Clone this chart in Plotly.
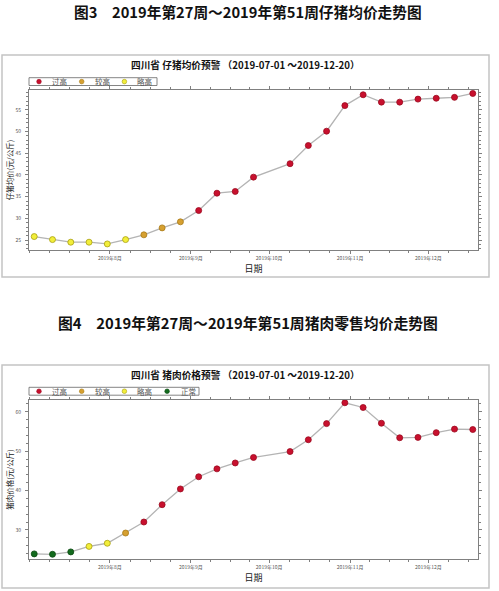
import plotly.graph_objects as go
import pandas as pd

# ---- data ----
dates = ["2019-07-03", "2019-07-10", "2019-07-17", "2019-07-24", "2019-07-31",
         "2019-08-07", "2019-08-14", "2019-08-21", "2019-08-28", "2019-09-04",
         "2019-09-11", "2019-09-18", "2019-09-25", "2019-10-09", "2019-10-16",
         "2019-10-23", "2019-10-30", "2019-11-06", "2019-11-13", "2019-11-20",
         "2019-11-27", "2019-12-04", "2019-12-11", "2019-12-18"]

piglet_price = [25.8, 25.1, 24.5, 24.5, 24.1, 25.1, 26.2, 27.8, 29.2, 31.8,
                35.8, 36.2, 39.5, 42.6, 46.8, 50.1, 56.0, 58.5, 56.8, 56.8,
                57.5, 57.7, 57.9, 58.8]
piglet_level = ["略高", "略高", "略高", "略高", "略高", "略高", "较高", "较高", "较高", "过高",
                "过高", "过高", "过高", "过高", "过高", "过高", "过高", "过高", "过高", "过高",
                "过高", "过高", "过高", "过高"]

pork_price = [23.9, 23.8, 24.4, 25.8, 26.6, 29.2, 32.0, 36.4, 40.4, 43.5,
              45.5, 47.0, 48.4, 49.9, 52.9, 57.0, 62.3, 61.1, 57.1, 53.4,
              53.5, 54.7, 55.6, 55.5]
pork_level = ["正常", "正常", "正常", "略高", "略高", "较高", "过高", "过高", "过高", "过高",
              "过高", "过高", "过高", "过高", "过高", "过高", "过高", "过高", "过高", "过高",
              "过高", "过高", "过高", "过高"]

month_ticks = ["2019-08-01", "2019-09-01", "2019-10-01", "2019-11-01", "2019-12-01"]
month_labels = ["2019年8月", "2019年9月", "2019年10月", "2019年11月", "2019年12月"]

levels = ["过高", "较高", "略高", "正常"]
level_fill = {"过高": "#C8102E", "较高": "#D6A030", "略高": "#F2EE3A", "正常": "#136B1E"}
level_edge = {"过高": "#9A0A1E", "较高": "#A87A18", "略高": "#A8A010", "正常": "#0B4A12"}

W, H = 499, 591
FONT = "Noto Sans CJK SC"


def px(x):
    return x / W


def py(y):
    return 1 - y / H


# minor ticks: quarter months
minor_vals = []
for m in range(7, 13):
    start = pd.Timestamp(2019, m, 1)
    end = pd.Timestamp(2019, m + 1, 1) if m < 12 else pd.Timestamp(2020, 1, 1)
    span = end - start
    for k in range(4):
        minor_vals.append((start + span * k / 4).strftime("%Y-%m-%d %H:%M:%S"))

fig = go.Figure()


def add_chart(prices, lvls, xa, ya):
    fig.add_trace(go.Scatter(x=dates, y=prices, mode="lines",
                             line=dict(color="#b4b4b4", width=1.3),
                             showlegend=False, hoverinfo="skip",
                             xaxis=xa, yaxis=ya))
    for lv in levels:
        idx = [i for i, v in enumerate(lvls) if v == lv]
        if not idx:
            continue
        fig.add_trace(go.Scatter(
            x=[dates[i] for i in idx], y=[prices[i] for i in idx],
            mode="markers", name=lv, showlegend=False,
            marker=dict(size=6, color=level_fill[lv],
                        line=dict(color=level_edge[lv], width=0.8)),
            xaxis=xa, yaxis=ya))


add_chart(piglet_price, piglet_level, "x", "y")
add_chart(pork_price, pork_level, "x2", "y2")

axis_common = dict(showgrid=False, zeroline=False, showline=True, linecolor="#808080",
                   linewidth=1, mirror="ticks", ticks="outside", ticklen=3,
                   tickcolor="#808080", tickfont=dict(size=5, color="#555"))

xcommon = dict(axis_common, type="date", range=["2019-07-01", "2019-12-20"],
               tickmode="array", tickvals=month_ticks, ticktext=month_labels,
               ticklabelstandoff=0,
               minor=dict(tickmode="array", tickvals=minor_vals, ticklen=2,
                          tickcolor="#808080", ticks="outside"),
               title=dict(text="日期", font=dict(size=9, color="#222"), standoff=0))

fig.update_layout(
    width=W, height=H, margin=dict(l=0, r=0, t=0, b=0),
    paper_bgcolor="white", plot_bgcolor="white",
    font=dict(family=FONT, color="#222"),
    showlegend=False,
    xaxis=dict(xcommon, domain=[px(29), px(478)], anchor="y"),
    yaxis=dict(axis_common, domain=[py(250), py(90)], anchor="x",
               range=[22.7, 59.6], tickvals=[25, 30, 35, 40, 45, 50, 55],
               ticklabelstandoff=3,
               minor=dict(dtick=1, ticklen=2, tickcolor="#808080", ticks="outside"),
               title=dict(text="仔猪均价(元/公斤)", font=dict(size=7.5, color="#222"), standoff=0)),
    xaxis2=dict(xcommon, domain=[px(29), px(478)], anchor="y2"),
    yaxis2=dict(axis_common, domain=[py(559), py(400)], anchor="x2",
                range=[22.6, 63.0], tickvals=[30, 40, 50, 60],
                ticklabelstandoff=3,
                minor=dict(dtick=2, ticklen=2, tickcolor="#808080", ticks="outside"),
                title=dict(text="猪肉价格(元/公斤)", font=dict(size=7.5, color="#222"), standoff=0)),
)

# frames around each chart
for (y0, y1) in [(55, 277), (365, 588)]:
    fig.add_shape(type="rect", xref="paper", yref="paper",
                  x0=px(2), x1=px(489), y0=py(y1), y1=py(y0),
                  line=dict(color="#c4c4c4", width=1.5), fillcolor="rgba(0,0,0,0)")


# legends (boxed rows of symbol + label)
def add_legend(top, bottom, right, items):
    fig.add_shape(type="rect", xref="paper", yref="paper",
                  x0=px(29), x1=px(right), y0=py(bottom), y1=py(top),
                  line=dict(color="#666", width=0.8), fillcolor="white")
    yc = (top + bottom) / 2
    for k, lv in enumerate(items):
        sx = 39 + 42.7 * k
        fig.add_shape(type="circle", xref="paper", yref="paper",
                      x0=px(sx - 2.3), x1=px(sx + 2.3), y0=py(yc + 2.3), y1=py(yc - 2.3),
                      line=dict(color=level_edge[lv], width=0.6), fillcolor=level_fill[lv])
        fig.add_annotation(text=lv, x=px(sx + 21), y=py(yc), xref="paper", yref="paper",
                           showarrow=False, font=dict(size=7.5, color="#555"),
                           xanchor="center", yanchor="middle")


add_legend(77.7, 85.5, 157, ["过高", "较高", "略高"])
add_legend(387.3, 395.2, 199, ["过高", "较高", "略高", "正常"])

# captions and chart titles
fig.add_annotation(text="<b>图3　2019年第27周～2019年第51周仔猪均价走势图</b>",
                   x=px(248), y=py(12), xref="paper", yref="paper", showarrow=False,
                   font=dict(size=14.7, color="#111"), xanchor="center", yanchor="middle")
fig.add_annotation(text="<b>图4　2019年第27周～2019年第51周猪肉零售均价走势图</b>",
                   x=px(248), y=py(322), xref="paper", yref="paper", showarrow=False,
                   font=dict(size=14.8, color="#111"), xanchor="center", yanchor="middle")
fig.add_annotation(text="<b>四川省 仔猪均价预警 （2019-07-01 ～2019-12-20）</b>",
                   x=px(245), y=py(65), xref="paper", yref="paper", showarrow=False,
                   font=dict(size=9.7, color="#111"), xanchor="center", yanchor="middle")
fig.add_annotation(text="<b>四川省 猪肉价格预警 （2019-07-01 ～2019-12-20）</b>",
                   x=px(245), y=py(375), xref="paper", yref="paper", showarrow=False,
                   font=dict(size=9.7, color="#111"), xanchor="center", yanchor="middle")

fig.write_html("out.html", config={"displayModeBar": False},
               post_script="document.body.style.margin='0';")
